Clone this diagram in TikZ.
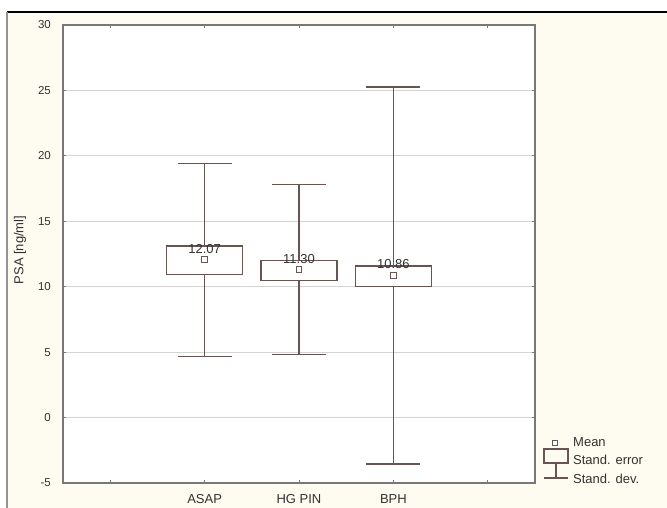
\documentclass[tikz,border=0pt]{standalone}
\usepackage{fontspec}
\setmainfont{Liberation Sans}
\definecolor{cream}{RGB}{254,251,241}
\definecolor{framegray}{RGB}{120,120,120}
\definecolor{gridgray}{RGB}{212,212,212}
\definecolor{boxcol}{RGB}{105,84,84}
\definecolor{txtcol}{RGB}{50,50,50}
\tikzset{
  frameline/.style={draw=framegray, line width=1.7pt},
  gridline/.style={draw=gridgray, line width=1.1pt},
  boxline/.style={draw=boxcol, line width=1.3pt},
  tickline/.style={draw=framegray, line width=1pt},
  ticklbl/.style={font=\fontsize{11.5}{12}\selectfont, text=txtcol, inner sep=0pt},
  catlbl/.style={font=\fontsize{13}{14}\selectfont, text=txtcol, inner sep=0pt},
  meanlbl/.style={font=\fontsize{13}{14}\selectfont, text=txtcol, inner sep=0pt},
  meanmark/.style={draw=boxcol, fill=white, line width=1pt, minimum size=5.5pt, inner sep=0pt, rectangle},
  legtxt/.style={font=\fontsize{13}{14}\selectfont, text=txtcol, inner sep=0pt, anchor=west},
}
\begin{document}
\begin{tikzpicture}[x=1pt,y=1pt]
\useasboundingbox (0,0) rectangle (667,508);
\fill[white] (0,0) rectangle (667,508);
\fill[cream] (7,0) rectangle (667,496);
\draw[black, line width=1.3pt] (7,496) -- (667,496);
\draw[framegray!80, line width=1.5pt] (7,0) -- (7,496);
% plot area
\fill[white] (63,25) rectangle (535,483);
\begin{scope}[shift={(0,90.43)}, y=13.086pt]
  % grid
  \foreach \v in {0,5,10,15,20,25} {
    \draw[gridline] (63,\v) -- (535,\v);
  }
  % y ticks and labels
  \foreach \v in {-5,0,5,10,15,20,25,30} {
    \draw[tickline] (63,\v) -- ++(3,0);
    \draw[tickline] (535,\v) -- ++(-3,0);
    \node[ticklbl, anchor=east] (yt\v) at (51,\v) {\v};
  }
  % x ticks
  \foreach \cx in {110.2,204.6,299,393.4,487.8} {
    \draw[tickline] (\cx,-5) -- ++(0,0.25);
    \draw[tickline] (\cx,30) -- ++(0,-0.25);
  }
  % boxes
  \foreach \cx/\m/\sl/\sh/\dl/\dh/\nm/\lab in {
      204.6/12.07/10.93/13.10/4.67/19.40/A/{12.07},
      299/11.30/10.50/12.02/4.80/17.80/H/{11.30},
      393.4/10.86/10.03/11.58/-3.55/25.25/B/{10.86}} {
    \coordinate (top\nm) at (\cx,\dh);
    \coordinate (bot\nm) at (\cx,\dl);
    \draw[boxline] (top\nm) -- (bot\nm);
    \draw[boxline] ([xshift=-27pt]top\nm) -- ([xshift=27pt]top\nm);
    \draw[boxline] ([xshift=-27pt]bot\nm) -- ([xshift=27pt]bot\nm);
    \filldraw[boxline, fill=white] (\cx-38,\sl) rectangle (\cx+38,\sh);
    \node[meanmark] (mean\nm) at (\cx,\m) {};
    \node[meanlbl] (lab\nm) at ([yshift=11pt]mean\nm.center) {\lab};
  }
\end{scope}
\draw[frameline] (63,25) rectangle (535,483);
% category labels
\node[catlbl] (cA) at (204.6,9) {ASAP};
\node[catlbl] (cH) at (299,9) {HG PIN};
\node[catlbl] (cB) at (393.4,9) {BPH};
% y axis label
\node[catlbl, rotate=90] (ylab) at (20,258) {PSA [ng/ml]};
% legend
\node[meanmark] (legmean) at (555,65) {};
\node[legtxt] (tmean) at (573,66) {Mean};
\node[draw=boxcol, line width=1.2pt, minimum width=24pt, minimum height=14pt, inner sep=0pt] (legbox) at (556,52) {};
\node[legtxt] (tse) at (573,48) {Stand. error};
\coordinate (legcap) at (556,30);
\draw[boxline] (legbox.south) -- (legcap);
\draw[boxline] ([xshift=-12pt]legcap) -- ([xshift=12pt]legcap);
\node[legtxt] (tsd) at (573,29) {Stand. dev.};
\end{tikzpicture}
\end{document}
